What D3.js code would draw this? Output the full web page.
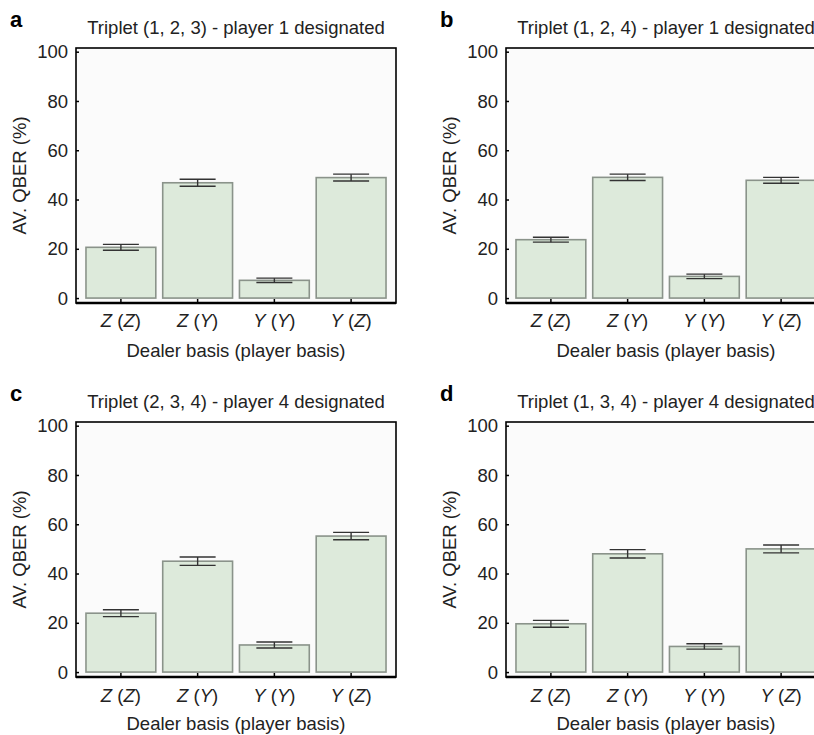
<!DOCTYPE html>
<html>
<head>
<meta charset="utf-8">
<script src="https://cdn.jsdelivr.net/npm/d3@7"></script>
<style>
  body { margin: 0; background: #fff; }
  text { font-family: "Liberation Sans", Arial, Helvetica, sans-serif; fill: #222; }
</style>
</head>
<body>
<script>
// categorie: dealer basis en player basis
var dealer = ["Z", "Z", "Y", "Y"]
var speler = ["Z", "Y", "Y", "Z"]
var yTicks = [0, 20, 40, 60, 80, 100]

var letters = ["a", "b", "c", "d"]
var titels = [
  "Triplet (1, 2, 3) - player 1 designated",
  "Triplet (1, 2, 4) - player 1 designated",
  "Triplet (2, 3, 4) - player 4 designated",
  "Triplet (1, 3, 4) - player 4 designated"
]

// gemiddelde QBER per panel (%)
var qberA = [20.6, 46.8, 7.2, 48.9]
var qberB = [23.7, 49.0, 8.8, 47.8]
var qberC = [23.9, 45.0, 11.0, 55.2]
var qberD = [19.6, 48.0, 10.4, 50.0]

// foutmarges (halve hoogte)
var foutA = [1.2, 1.4, 0.9, 1.4]
var foutB = [1.0, 1.3, 0.9, 1.2]
var foutC = [1.4, 1.7, 1.2, 1.5]
var foutD = [1.4, 1.7, 1.1, 1.6]

var waarden = [qberA, qberB, qberC, qberD]
var fouten = [foutA, foutB, foutC, foutD]

var breedte = 814
var hoogte = 735

// linkerbovenhoek van elk kader
var posities = [[76, 48], [506, 48], [76, 422], [506, 422]]
var kaderB = 320
var kaderH = 255
// afstand van labels onder de as, per rij
var labelAfstand = [24, 25]
var titelAfstand = [54, 53]

var svg = d3.select("body").append("svg")
  .attr("width", breedte)
  .attr("height", hoogte)

var cats = d3.range(dealer.length)

for (var p = 0; p < 4; p++) {
  var x0 = posities[p][0]
  var y0 = posities[p][1]
  var rij = Math.floor(p / 2)

  var x = d3.scaleBand()
    .domain(cats)
    .range([x0, x0 + kaderB])
    .paddingInner(0.09)
    .paddingOuter(0.13)

  var y = d3.scaleLinear()
    .domain([-2, 101.5])
    .range([y0 + kaderH, y0])

  var g = svg.append("g")

  // achtergrond van het plotvlak
  g.append("rect")
    .attr("x", x0).attr("y", y0)
    .attr("width", kaderB).attr("height", kaderH)
    .attr("fill", "#fbfbfb")

  var data = cats.map(function(i) {
    return {i: i, v: waarden[p][i], e: fouten[p][i]}
  })

  // staven
  g.selectAll(".staaf")
    .data(data)
    .enter()
    .append("rect")
    .attr("x", function(d) { return x(d.i) })
    .attr("y", function(d) { return y(d.v) })
    .attr("width", x.bandwidth())
    .attr("height", function(d) { return y(0) - y(d.v) })
    .attr("fill", "#ddeadb")
    .attr("stroke", "#8a938a")
    .attr("stroke-width", 1.6)

  // foutbalken
  var capW = 18
  var fb = g.selectAll(".fout")
    .data(data)
    .enter()
    .append("g")
    .attr("stroke", "#333")
    .attr("stroke-width", 1.4)
  fb.append("line")
    .attr("x1", function(d) { return x(d.i) + x.bandwidth() / 2 })
    .attr("x2", function(d) { return x(d.i) + x.bandwidth() / 2 })
    .attr("y1", function(d) { return y(d.v + d.e) })
    .attr("y2", function(d) { return y(d.v - d.e) })
  fb.append("line")
    .attr("x1", function(d) { return x(d.i) + x.bandwidth() / 2 - capW })
    .attr("x2", function(d) { return x(d.i) + x.bandwidth() / 2 + capW })
    .attr("y1", function(d) { return y(d.v + d.e) })
    .attr("y2", function(d) { return y(d.v + d.e) })
  fb.append("line")
    .attr("x1", function(d) { return x(d.i) + x.bandwidth() / 2 - capW })
    .attr("x2", function(d) { return x(d.i) + x.bandwidth() / 2 + capW })
    .attr("y1", function(d) { return y(d.v - d.e) })
    .attr("y2", function(d) { return y(d.v - d.e) })

  // y-as met ticks naar binnen
  var asY = d3.axisRight(y).tickValues(yTicks).tickSize(3).tickFormat("")
  g.append("g")
    .attr("transform", "translate(" + x0 + ",0)")
    .call(asY)
    .call(function(s) { s.select(".domain").remove() })
    .selectAll("line").attr("stroke", "#000").attr("stroke-width", 1.5)

  g.selectAll(".ylab")
    .data(yTicks)
    .enter()
    .append("text")
    .attr("x", x0 - 8)
    .attr("y", function(d) { return y(d) })
    .attr("dy", "0.36em")
    .attr("text-anchor", "end")
    .attr("font-size", "18.5px")
    .text(function(d) { return d })

  // x-as ticks naar boven
  var asX = d3.axisTop(x).tickSize(4).tickFormat("")
  g.append("g")
    .attr("transform", "translate(0," + (y0 + kaderH) + ")")
    .call(asX)
    .call(function(s) { s.select(".domain").remove() })
    .selectAll("line").attr("stroke", "#000").attr("stroke-width", 1.5)

  // kader
  g.append("rect")
    .attr("x", x0).attr("y", y0)
    .attr("width", kaderB).attr("height", kaderH)
    .attr("fill", "none")
    .attr("stroke", "#000")
    .attr("stroke-width", 1.6)
  g.append("line")
    .attr("x1", x0).attr("x2", x0 + kaderB)
    .attr("y1", y0 + kaderH).attr("y2", y0 + kaderH)
    .attr("stroke", "#000")
    .attr("stroke-width", 2.6)

  // categorie labels
  var lab = g.selectAll(".xlab")
    .data(data)
    .enter()
    .append("text")
    .attr("x", function(d) { return x(d.i) + x.bandwidth() / 2 })
    .attr("y", y0 + kaderH + labelAfstand[rij])
    .attr("text-anchor", "middle")
    .attr("font-size", "18.5px")
  lab.append("tspan").attr("font-style", "italic").text(function(d) { return dealer[d.i] })
  lab.append("tspan").text(" (")
  lab.append("tspan").attr("font-style", "italic").text(function(d) { return speler[d.i] })
  lab.append("tspan").text(")")

  // x-as titel
  g.append("text")
    .attr("x", x0 + kaderB / 2)
    .attr("y", y0 + kaderH + titelAfstand[rij])
    .attr("text-anchor", "middle")
    .attr("font-size", "18.5px")
    .text("Dealer basis (player basis)")

  // y-as titel
  g.append("text")
    .attr("transform", "translate(" + (x0 - 50) + "," + (y0 + kaderH / 2) + ") rotate(-90)")
    .attr("text-anchor", "middle")
    .attr("font-size", "18.5px")
    .text("AV. QBER (%)")

  // paneltitel
  g.append("text")
    .attr("x", x0 + kaderB / 2)
    .attr("y", y0 - 14)
    .attr("text-anchor", "middle")
    .attr("font-size", "18.5px")
    .text(titels[p])

  // panel letter
  g.append("text")
    .attr("x", x0 - 66)
    .attr("y", y0 - 21)
    .attr("font-size", "22px")
    .attr("font-weight", "bold")
    .style("fill", "#000")
    .text(letters[p])
}
</script>
</body>
</html>
